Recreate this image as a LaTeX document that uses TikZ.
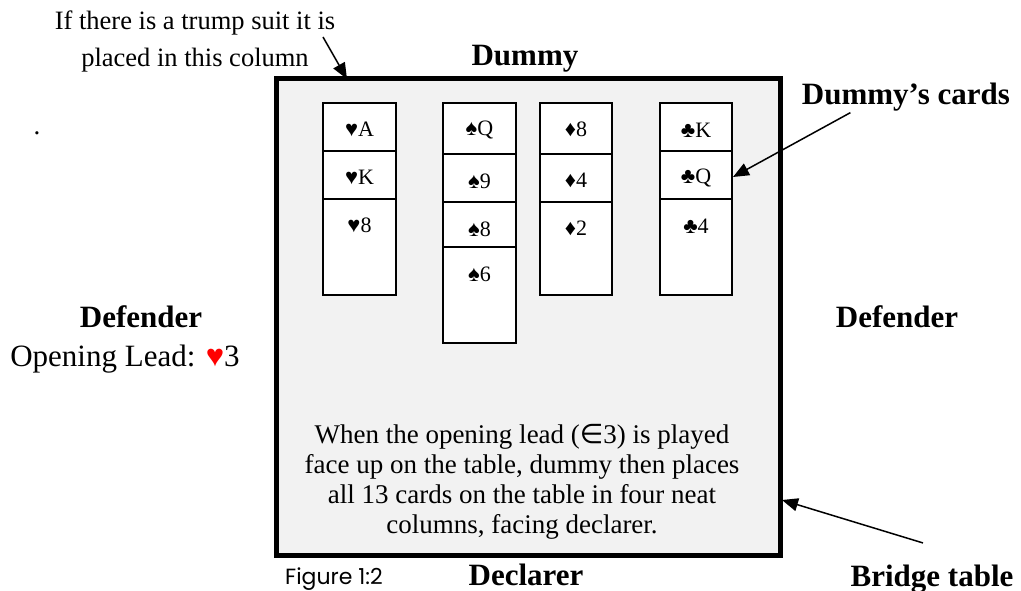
\documentclass[tikz,border=0pt]{standalone}
\usepackage{fontspec}
\setmainfont{Liberation Serif}
\newfontfamily\symfont{DejaVu Sans}
\newfontfamily\capfont{Poppins}
\usetikzlibrary{arrows.meta}
\definecolor{tablegray}{HTML}{F2F2F2}

\begin{document}
\begin{tikzpicture}[x=1pt,y=-1pt,
        seat/.style={font=\fontsize{31}{36}\selectfont\bfseries},
        note/.style={font=\fontsize{27}{30}\selectfont, align=center},
        card/.style={draw, line width=1.7pt, fill=white},
        pip/.style={font=\fontsize{22}{24}\selectfont},
        pointer/.style={line width=1.5pt, -{Triangle[length=16pt,width=13pt]}}]
    \useasboundingbox (0,0) rectangle (1021,591);
    \node[draw, line width=5pt, fill=tablegray, minimum width=504pt, minimum height=476pt, inner sep=0pt] (table) at (528,317) {};

    \foreach \n/\top/\txt in {A/103/♥A, K/151/♥K, 8/199/♥8}{
        \draw[card] (323,\top) rectangle (396,295);
        \node[pip] (heart\n) at (359.5,\top+26) {\txt};
    }
    \foreach \n/\top/\txt in {Q/103/♠Q, 9/154/♠9, 8/202/♠8, 6/247/♠6}{
        \draw[card] (443,\top) rectangle (516,343);
        \node[pip] (spade\n) at (479.5,\top+27) {\txt};
    }
    \foreach \n/\top/\txt in {8/103/♦8, 4/154/♦4, 2/202/♦2}{
        \draw[card] (540,\top) rectangle (612,295);
        \node[pip] (diamond\n) at (576,\top+26) {\txt};
    }
    \foreach \n/\top/\txt in {K/103/♣K, Q/151/♣Q, 4/199/♣4}{
        \draw[card] (660,\top) rectangle (732,295);
        \node[pip] (club\n) at (696,\top+27) {\txt};
    }

    \node[note, font=\fontsize{26.5}{37}\selectfont] (trump) at (195,41) {If there is a trump suit it is\\placed in this column};
    \node[note] (dot) at (37,133) {.};
    \node[seat] (dummy) at (525,59) {Dummy};
    \node[seat] (dcards) at (906,97) {Dummy’s cards};
    \node[seat] (west) at (141,317) {Defender};
    \node[font=\fontsize{31}{36}\selectfont] (lead) at (125,359) {Opening Lead: {\color{red}♥}3};
    \node[seat] (east) at (897,317) {Defender};
    \node[note] (rule) at (522,482) {When the opening lead ({\symfont ∈}3) is played\\face up on the table, dummy then places\\all 13 cards on the table in four neat\\columns, facing declarer.};
    \node[font=\capfont\fontsize{22}{24}\selectfont, anchor=base] (fig) at (334,584) {Figure 1:2};
    \node[seat, anchor=base] (south) at (526,585) {Declarer};
    \node[seat, anchor=base] (bridge) at (932,586) {Bridge table};

    \coordinate (trumptip) at (347,79);
    \coordinate (cardstip) at (733,177);
    \coordinate (tabletip) at (782,500);
    \draw[pointer] ([xshift=128pt,yshift=4pt]trump.center) -- (trumptip);
    \draw[pointer] ([xshift=52pt,yshift=2pt]dcards.south west) -- (cardstip);
    \draw[pointer] ([xshift=-9pt,yshift=18pt]bridge.north) -- (tabletip);
\end{tikzpicture}
\end{document}
